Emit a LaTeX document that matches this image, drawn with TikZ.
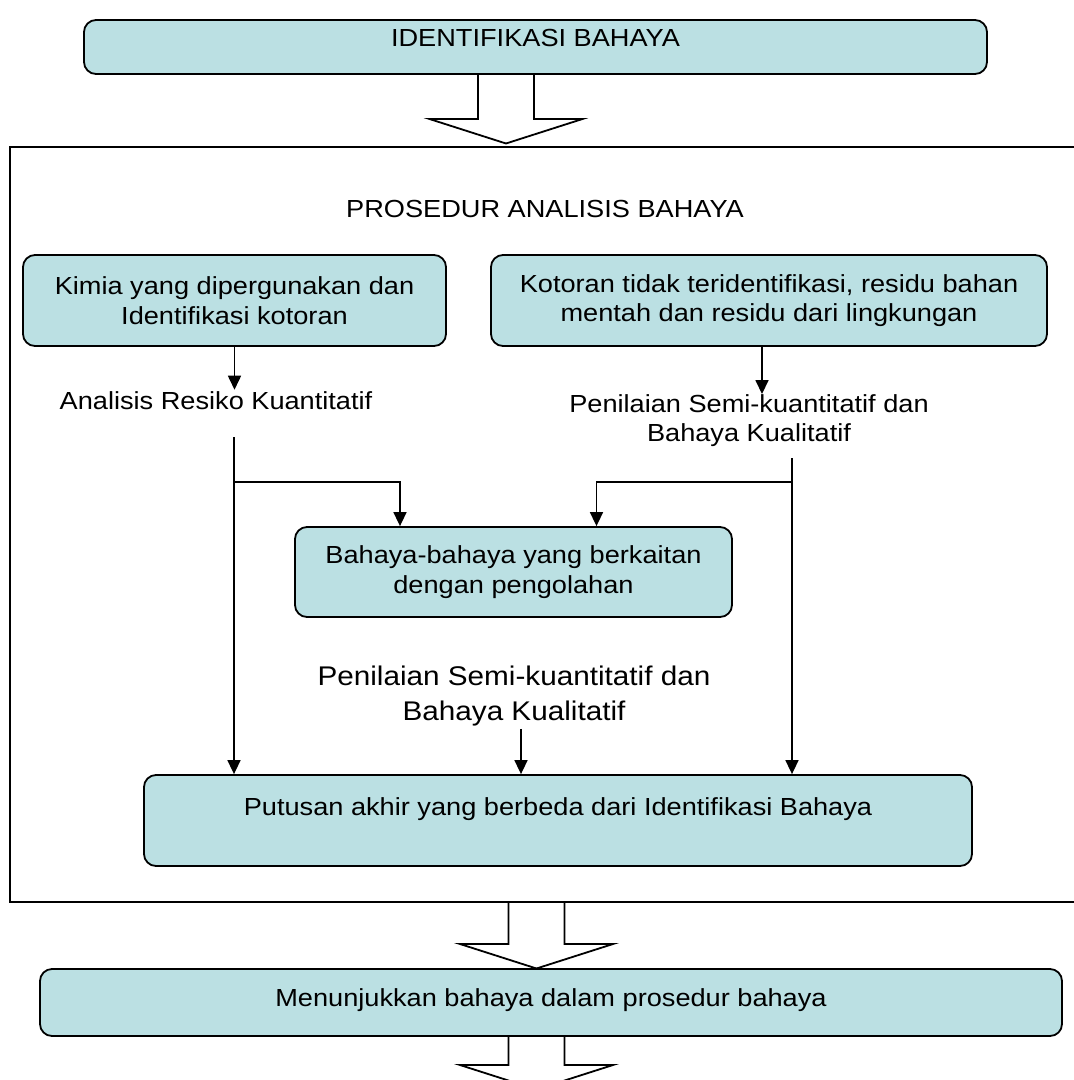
\documentclass[tikz,border=0pt]{standalone}
\usepackage{fontspec}
\setmainfont[FakeStretch=1.1]{Liberation Sans}
\usetikzlibrary{arrows.meta}
\definecolor{kotakbiru}{RGB}{187,224,227}
\newcommand\teksbiasa{\fontsize{24.7}{29.5}\selectfont}
\newcommand\teksbesar{\fontsize{27}{35}\selectfont}
\tikzset{
  kotak/.style={draw, line width=1.8pt, fill=kotakbiru, rounded corners=12pt,
    inner sep=0pt, align=center, font=\teksbiasa},
  teks/.style={inner sep=0pt, align=center, font=\teksbiasa},
  panah/.style={line width=1.6pt, -{Triangle[length=14pt,width=13pt]}},
  panahbesar/.style={draw, line width=1.8pt, fill=white, line join=miter}
}
\begin{document}
\begin{tikzpicture}[x=1pt,y=-1pt]
  \useasboundingbox (0,0) rectangle (1074,1080);
  % panah besar
  \foreach \x/\ya/\yb in {506/74/119, 536.5/902/944, 536.5/1036/1065}
    \draw[panahbesar] (\x-28,\ya) -- (\x-28,\yb) -- (\x-76.5,\yb) -- (\x,\yb+24.5)
      -- (\x+76.5,\yb) -- (\x+28,\yb) -- (\x+28,\ya);
  % bingkai prosedur
  \draw[line width=2.8pt] (1090,147) -- (10,147) -- (10,902) -- (1090,902);

  \node[kotak, minimum width=903pt, minimum height=54pt, text height=18pt, text depth=20pt]
    (identifikasi) at (535.5,47) {IDENTIFIKASI BAHAYA};
  \node[teks] (prosedur) at (545,209) {PROSEDUR ANALISIS BAHAYA};
  \node[kotak, minimum width=423pt, minimum height=91pt] (kimia) at (234.5,300.5)
    {Kimia yang dipergunakan dan\\Identifikasi kotoran};
  \node[kotak, minimum width=556pt, minimum height=91pt] (kotoran) at (769,300.5)
    {Kotoran tidak teridentifikasi, residu bahan\\mentah dan residu dari lingkungan};
  \node[teks] (kuantitatif) at (216,401) {Analisis Resiko Kuantitatif};
  \node[teks] (semikanan) at (749,420.5) {Penilaian Semi-kuantitatif dan\\Bahaya Kualitatif};
  \node[kotak, minimum width=437pt, minimum height=90pt] (pengolahan) at (513.5,572)
    {Bahaya-bahaya yang berkaitan\\dengan pengolahan};
  \node[teks, font=\teksbesar] (semitengah) at (514,696.5) {Penilaian Semi-kuantitatif dan\\Bahaya Kualitatif};
  \node[kotak, minimum width=828pt, minimum height=91pt, text height=18pt, text depth=29pt]
    (putusan) at (558,820.5) {Putusan akhir yang berbeda dari Identifikasi Bahaya};
  \node[kotak, minimum width=1022pt, minimum height=67pt, text height=18pt, text depth=11pt]
    (menunjukkan) at (551,1002.5) {Menunjukkan bahaya dalam prosedur bahaya};

  \coordinate (kirinaik) at (234,437);
  \coordinate (kiricabang) at (234,482);
  \coordinate (kanannaik) at (792,458);
  \coordinate (kanancabang) at (792,482);

  \draw[panah, shorten >=2pt] (kimia.south) -- (kimia.south |- kuantitatif.north);
  \draw[panah] ([xshift=-7pt]kotoran.south) -- ([xshift=-7pt]kotoran.south |- semikanan.north);
  \draw[panah] (kirinaik) -- (kirinaik |- putusan.north);
  \draw[panah] (kiricabang) -| ([xshift=-113.5pt]pengolahan.north);
  \draw[panah] (kanannaik) -- (kanannaik |- putusan.north);
  \draw[panah] (kanancabang) -| ([xshift=83pt]pengolahan.north);
  \draw[panah, shorten <=2pt] ([xshift=7pt]semitengah.south) -- ([xshift=7pt]semitengah.south |- putusan.north);
\end{tikzpicture}
\end{document}
